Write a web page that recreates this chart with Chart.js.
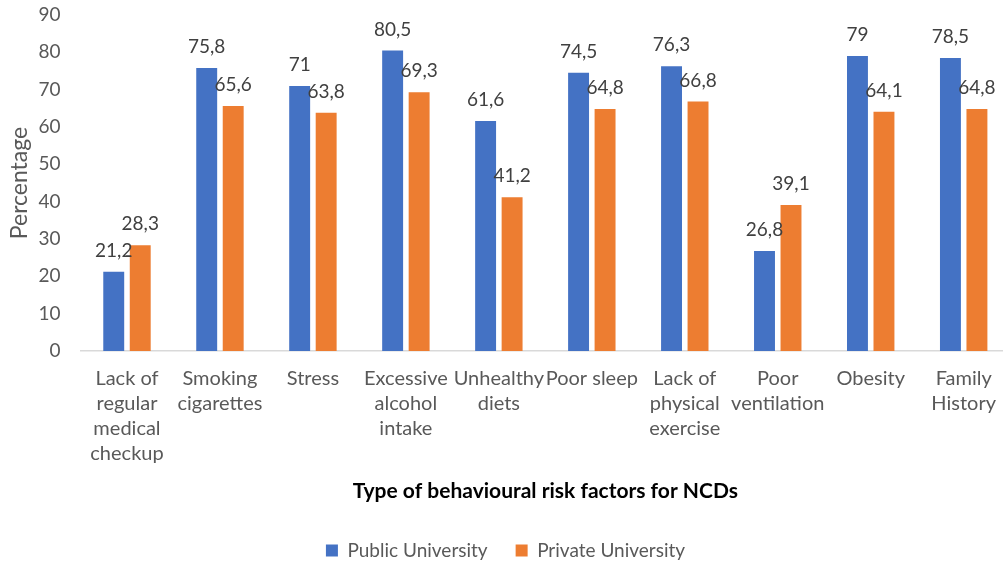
<!DOCTYPE html>
<html>
<head>
<meta charset="utf-8">
<script src="https://cdn.jsdelivr.net/npm/chart.js@4/dist/chart.umd.min.js"></script>
<style>
  html, body { margin: 0; padding: 0; background: #fff; overflow: hidden; }
  #wrap { width: 1003px; height: 565px; overflow: hidden; }
</style>
</head>
<body>
<!-- canvas a bit larger than the window: plot runs off the right edge like the original -->
<div id="wrap"><canvas id="chart" width="1011" height="570"></canvas></div>
<script>
const categories = [
    ["Lack of", "regular", "medical", "checkup"],
    ["Smoking", "cigarettes"],
    ["Stress"],
    ["Excessive", "alcohol", "intake"],
    ["Unhealthy", "diets"],
    ["Poor sleep"],
    ["Lack of", "physical", "exercise"],
    ["Poor", "ventilation"],
    ["Obesity"],
    ["Family", "History"]
];
const public_values = [21.2, 75.8, 71, 80.5, 61.6, 74.5, 76.3, 26.8, 79, 78.5];
const private_values = [28.3, 65.6, 63.8, 69.3, 41.2, 64.8, 66.8, 39.1, 64.1, 64.8];
const y_ticks = [0, 10, 20, 30, 40, 50, 60, 70, 80, 90];

const font_name = "Lato, 'Open Sans', sans-serif";
const grey_text = "#595959";

// value labels above each bar, with comma decimals
const bar_labels = {
    id: "bar_labels",
    afterDatasetsDraw(chart) {
        const ctx = chart.ctx;
        ctx.save();
        ctx.font = "19px " + font_name;
        ctx.fillStyle = "#404040";
        ctx.textAlign = "center";
        ctx.textBaseline = "middle";
        chart.data.datasets.forEach((ds, i) => {
            const meta = chart.getDatasetMeta(i);
            meta.data.forEach((bar, j) => {
                const txt = String(ds.data[j]).replace(".", ",");
                ctx.fillText(txt, bar.x, bar.y - 21);
            });
        });
        ctx.restore();
    }
};

new Chart(document.getElementById("chart"), {
    type: "bar",
    data: {
        labels: categories,
        datasets: [{
            label: "Public University",
            data: public_values,
            backgroundColor: "#4472C4",
            categoryPercentage: 0.57,
            barPercentage: 0.79
        }, {
            label: "Private University",
            data: private_values,
            backgroundColor: "#ED7D31",
            categoryPercentage: 0.57,
            barPercentage: 0.79
        }]
    },
    options: {
        responsive: false,
        animation: false,
        layout: { padding: 0 },
        scales: {
            x: {
                grid: { display: false, drawTicks: false },
                border: { color: "#d9d9d9", width: 1.5 },
                ticks: {
                    color: grey_text,
                    font: { family: font_name, size: 20, lineHeight: 1.25 },
                    autoSkip: false,
                    maxRotation: 0,
                    minRotation: 0,
                    padding: 15
                },
                title: {
                    display: true,
                    text: "Type of behavioural risk factors for NCDs",
                    color: "#000",
                    font: { family: font_name, size: 21, weight: "bold" },
                    padding: { top: 0, bottom: 9 }
                },
                afterFit(scale) { scale.height = 162; }
            },
            y: {
                min: 0,
                max: 90,
                afterBuildTicks(scale) { scale.ticks = y_ticks.map(v => ({ value: v })); },
                grid: { display: false, drawTicks: false },
                border: { display: false },
                ticks: {
                    color: grey_text,
                    font: { family: font_name, size: 19 },
                    padding: 20
                },
                title: {
                    display: true,
                    text: "Percentage",
                    color: grey_text,
                    font: { family: font_name, size: 23 },
                    padding: { top: 6, bottom: 0 }
                },
                afterFit(scale) {
                    scale.width = 80.5;
                    scale.paddingTop = 15;
                    scale.paddingBottom = 0;
                }
            }
        },
        plugins: {
            legend: {
                position: "bottom",
                labels: {
                    color: grey_text,
                    font: { family: font_name, size: 19 },
                    boxWidth: 12,
                    boxHeight: 12,
                    padding: 28
                }
            },
            tooltip: { enabled: false }
        }
    },
    plugins: [bar_labels]
});
</script>
</body>
</html>
